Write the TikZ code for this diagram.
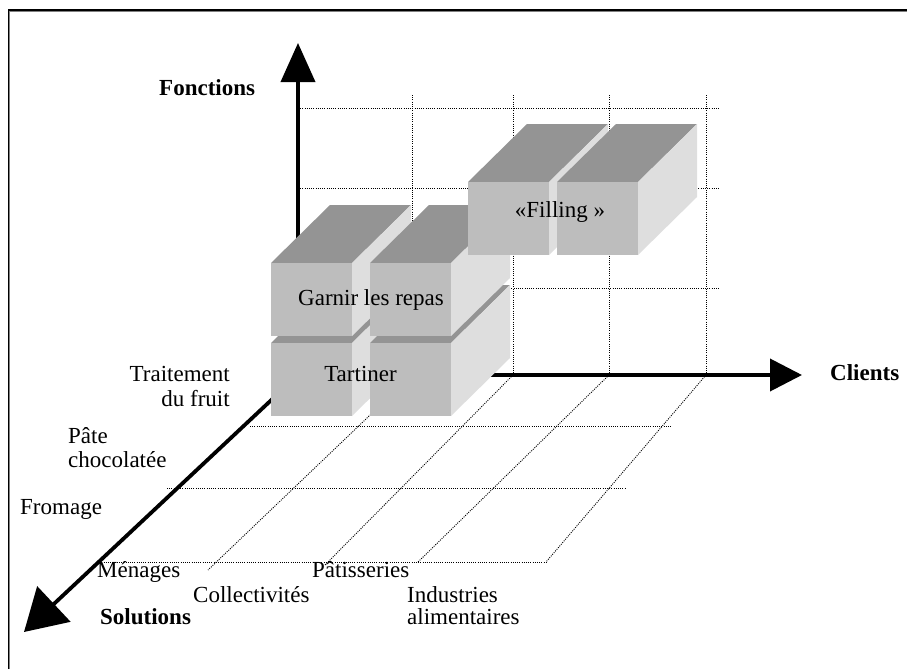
\documentclass[tikz,border=0pt]{standalone}
\usepackage{fontspec}
\setmainfont{Liberation Serif}
\usepackage{xcolor}
\usetikzlibrary{arrows.meta}

\definecolor{frontgray}{gray}{0.74}
\definecolor{topgray}{gray}{0.58}
\definecolor{sidegray}{gray}{0.87}

\begin{document}
\begin{tikzpicture}[x=1pt, y=-1pt,
  grid/.style={black, line width=0.9pt, dash pattern=on 1pt off 1.2pt},
  axis/.style={line width=3.8pt},
  lbl/.style={font=\fontsize{23}{24}\selectfont, inner sep=0pt},
  axlbl/.style={inner sep=0pt, font=\fontsize{23}{24}\selectfont\bfseries},
  cube/.pic={
    \fill[topgray] (0,0) -- (59,-58) -- (140,-58) -- (81,0) -- cycle;
    \fill[sidegray] (81,0) -- (140,-58) -- (140,15) -- (81,73) -- cycle;
    \fill[frontgray] (0,0) rectangle (81,73);
  },
]
  \useasboundingbox (0,0) rectangle (907,669);
  \draw[line width=1.6pt] (8.3,669) -- (8.3,9.8) -- (907,9.8);
  \draw[gray, line width=0.9pt] (9.9,669) -- (9.9,11.4) -- (907,11.4);

  \draw[grid] (298,108) -- (720,108);
  \draw[grid] (298,188) -- (720,188);
  \draw[grid] (298,288) -- (720,288);
  \draw[grid] (412,95) -- (412,375);
  \draw[grid] (513,95) -- (513,375);
  \draw[grid] (609,95) -- (609,375);
  \draw[grid] (706,95) -- (706,375);

  \draw[grid] (250,426) -- (672,426);
  \draw[grid] (167,488) -- (625,488);
  \draw[grid] (97,562) -- (548,562);
  \draw[grid] (412,375) -- (208,570);
  \draw[grid] (513,375) -- (325,565);
  \draw[grid] (609,375) -- (418,562);
  \draw[grid] (706,375) -- (546,562);

  \coordinate (O) at (298,375);
  \coordinate (fctTip) at (298,43);
  \coordinate (cliTip) at (802,375);
  \coordinate (solTip) at (24,632);
  \draw[axis, -{Triangle[length=39pt, width=34pt]}] (O) -- (fctTip);
  \draw[axis, -{Triangle[length=32pt, width=32pt]}] (O) -- (cliTip);
  \draw[axis, -{Triangle[length=41pt, width=48pt]}] (O) -- (solTip);

  \pic (tartL) at (271,343) {cube};
  \pic (tartR) at (370,343) {cube};
  \pic (garnL) at (271,263) {cube};
  \pic (garnR) at (370,263) {cube};
  \pic (fillL) at (468,182) {cube};
  \pic (fillR) at (557,182) {cube};

  \node[lbl, anchor=base] (garnir) at (371,305) {Garnir les repas};
  \node[lbl, anchor=base] (tartiner) at (360.5,381) {Tartiner};
  \node[lbl, anchor=base] (filling) at (560,217) {«Filling »};

  \node[axlbl, anchor=base west] (fonctions) at (159,95) {Fonctions};
  \node[axlbl, anchor=base west] (clients) at (830,380) {Clients};
  \node[axlbl, anchor=base west] (solutions) at (100,624) {Solutions};

  \node[lbl, anchor=north east, align=right] (traitement) at (230,365.8)
    {Traitement\\[1pt]du fruit};
  \node[lbl, anchor=north west, align=left] (pate) at (68,427.5)
    {Pâte\\chocolatée};
  \node[lbl, anchor=base west] (fromage) at (20,514) {Fromage};

  \node[lbl, anchor=base west] (menages) at (97,577) {Ménages};
  \node[lbl, anchor=base west] (collect) at (193,602) {Collectivités};
  \node[lbl, anchor=base west] (patiss) at (312,577) {Pâtisseries};
  \node[lbl, anchor=north west, align=left] (industries) at (407,586.3)
    {Industries\\[-2pt]alimentaires};
\end{tikzpicture}
\end{document}
